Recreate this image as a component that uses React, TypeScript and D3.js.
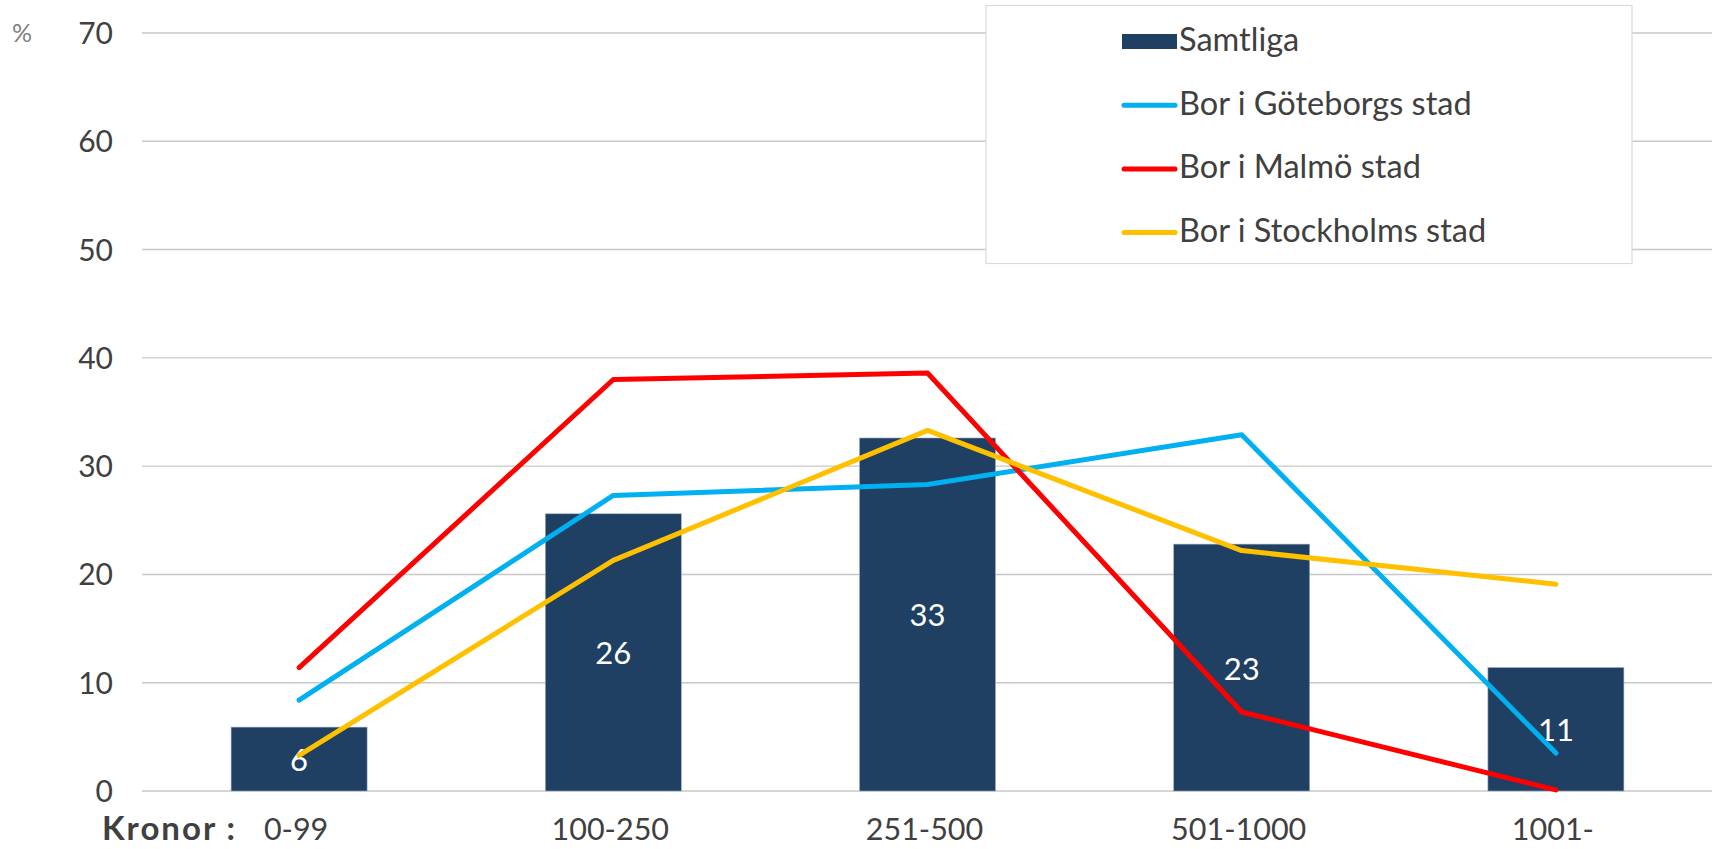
import React from "react";
import * as d3 from "d3";

const categories = ["0-99", "100-250", "251-500", "501-1000", "1001-"];
const samtliga = [5.9, 25.6, 32.6, 22.8, 11.4];
const goteborg = [8.4, 27.3, 28.3, 32.9, 3.5];
const malmo = [11.4, 38.0, 38.6, 7.3, 0.1];
const stockholm = [3.3, 21.3, 33.3, 22.2, 19.1];
const yTicks = [0, 10, 20, 30, 40, 50, 60, 70];
const seriesNames = ["Samtliga", "Bor i Göteborgs stad", "Bor i Malmö stad", "Bor i Stockholms stad"];
const xAxisTitle = "Kronor :";
const yAxisUnit = "%";

const W = 1712;
const H = 849;
const FONT = "Lato, 'Noto Sans', sans-serif";
const BAR = "#1F4063";
const LINE_COLORS = ["#00B0F0", "#FF0000", "#FFC000"];
const TEXT = "#404040";

export default function App() {
  const x = d3.scaleBand<string>().domain(categories).range([142, 1713]).padding(0);
  const y = d3.scaleLinear().domain([0, 70]).range([791, 33]);
  const cx = (c: string) => (x(c) as number) + x.bandwidth() / 2;
  const barW = 136;

  const lineGen = d3
    .line<number>()
    .x((_, i) => cx(categories[i]))
    .y((d) => y(d));

  const lines = [goteborg, malmo, stockholm];

  const legendX = 986;
  const legendY = 5.5;
  const legendW = 646;
  const legendH = 258;
  const itemY0 = 41.5;
  const itemStep = 63.7;
  const swX = 1122;
  const swW = 55;

  return (
    <svg
      width={W}
      height={H}
      style={{ position: "absolute", left: 0, top: 0, background: "#fff" }}
      fontFamily={FONT}
    >
      <rect x={0} y={0} width={W} height={H} fill="#fff" />
      {yTicks.map((t) => (
        <line key={t} x1={142} x2={W} y1={y(t)} y2={y(t)} stroke="#C8C8C8" strokeWidth={1.4} />
      ))}
      {yTicks.map((t) => (
        <text
          key={"t" + t}
          x={113}
          y={y(t) - 1}
          textAnchor="end"
          dominantBaseline="central"
          fontSize={30}
          fill={TEXT}
        >
          {t}
        </text>
      ))}
      <text x={12} y={42} fontSize={25} fill="#808080">
        {yAxisUnit}
      </text>
      {categories.map((c, i) => (
        <rect
          key={c}
          x={cx(c) - barW / 2}
          y={y(samtliga[i])}
          width={barW}
          height={y(0) - y(samtliga[i])}
          fill={BAR}
          stroke="#9fb0c2"
          strokeWidth={0.6}
        />
      ))}
      {categories.map((c, i) => (
        <text
          key={"l" + c}
          x={cx(c)}
          y={(y(samtliga[i]) + y(0)) / 2}
          textAnchor="middle"
          dominantBaseline="central"
          fontSize={31}
          fill="#fff"
        >
          {Math.round(samtliga[i])}
        </text>
      ))}
      {lines.map((s, k) => (
        <path
          key={"p" + k}
          d={lineGen(s) as string}
          fill="none"
          stroke={LINE_COLORS[k]}
          strokeWidth={5}
          strokeLinecap="round"
          strokeLinejoin="round"
        />
      ))}
      <text x={102} y={840} fontSize={33} fontWeight="bold" fill={TEXT} textLength={133} lengthAdjust="spacing">
        {xAxisTitle}
      </text>
      {categories.map((c) => (
        <text key={"x" + c} x={cx(c) - 3} y={840} textAnchor="middle" fontSize={30.5} fill={TEXT}>
          {c}
        </text>
      ))}
      <rect x={legendX} y={legendY} width={legendW} height={legendH} fill="#fff" stroke="#D9D9D9" strokeWidth={1.2} />
      {seriesNames.map((n, i) => {
        const iy = itemY0 + i * itemStep;
        return (
          <g key={n}>
            {i === 0 ? (
              <rect x={swX} y={iy - 7.5} width={swW} height={15} fill={BAR} />
            ) : (
              <line
                x1={swX + 2}
                x2={swX + swW - 2}
                y1={iy}
                y2={iy}
                stroke={LINE_COLORS[i - 1]}
                strokeWidth={5}
                strokeLinecap="round"
              />
            )}
            <text x={swX + swW + 2} y={iy - 3} dominantBaseline="central" fontSize={32.5} fill={TEXT}>
              {n}
            </text>
          </g>
        );
      })}
    </svg>
  );
}
